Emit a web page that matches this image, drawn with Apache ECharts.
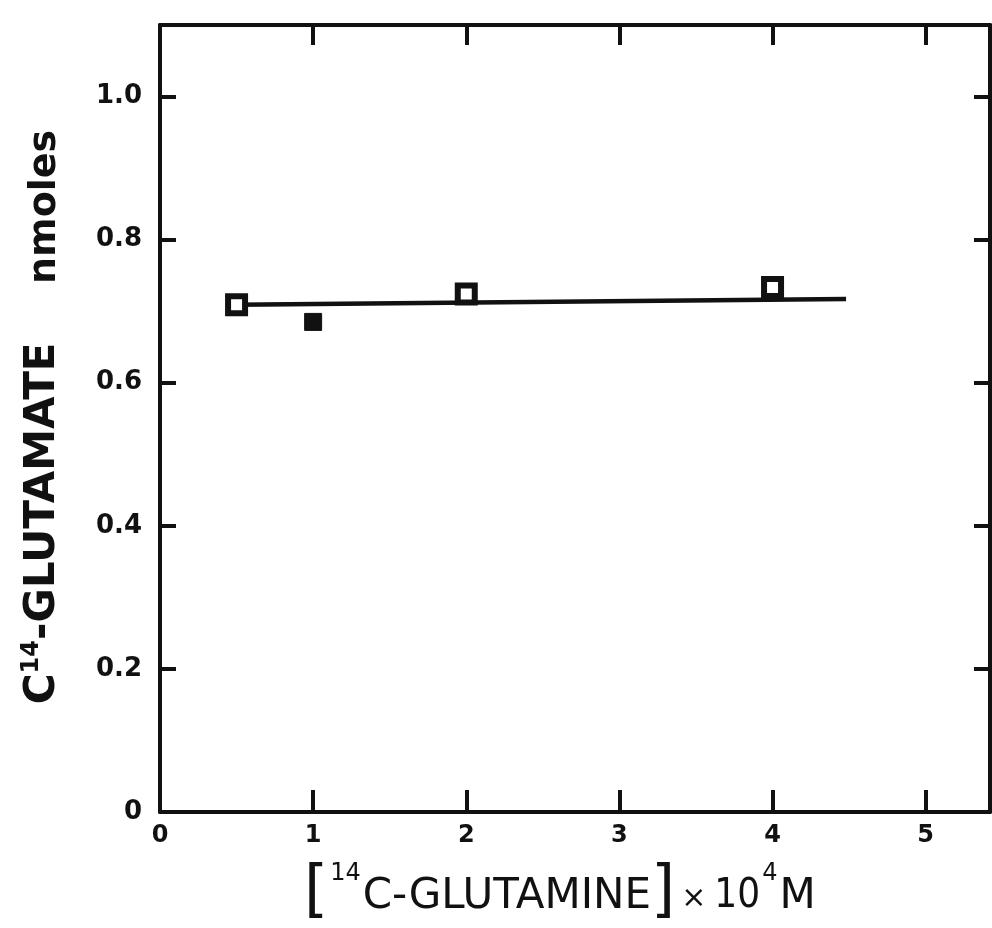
<!DOCTYPE html>
<html>
<head>
<meta charset="utf-8">
<script src="https://cdn.jsdelivr.net/npm/echarts@6/dist/echarts.min.js"></script>
<style>
html,body{margin:0;padding:0;background:#fff;}
#chart{width:992px;height:928px;}
</style>
</head>
<body>
<div id="chart"></div>
<script>
// [14C-glutamine] (x10^4 M) and glutamate formed (nmoles)
const glutamineConc = [0.5, 1, 2, 4];
const glutamateNmol = [0.709, 0.685, 0.724, 0.733];
// fitted straight line through the points
const fitConc = [0.5, 4.48];
const fitNmol = [0.709, 0.717];
// point styles: open squares except the filled one at 1
const pointFilled = [false, true, false, false];

const ink = '#111';
const chart = echarts.init(document.getElementById('chart'));

const points = glutamineConc.map((x, i) => ({
  value: [x, glutamateNmol[i]],
  itemStyle: pointFilled[i]
    ? { color: ink, borderColor: ink, borderWidth: 1, opacity: 1 }
    : { color: '#fff', borderColor: ink, borderWidth: 6, opacity: 1 }
}));

const tickFont = { fontFamily: 'DejaVu Sans', fontWeight: 'bold', color: ink };

chart.setOption({
  animation: false,
  backgroundColor: '#fff',
  grid: { left: 160, right: 2, top: 25, bottom: 116, containLabel: false },
  xAxis: [{
    type: 'value', min: 0, max: 5.42, interval: 1, position: 'bottom',
    axisLine: { show: true, onZero: false, lineStyle: { color: ink, width: 4 } },
    axisTick: { show: true, inside: true, length: 22, lineStyle: { color: ink, width: 4 } },
    axisLabel: { ...tickFont, fontSize: 24, margin: 12, showMaxLabel: false,
      formatter: v => Number.isInteger(v) ? String(v) : '' },
    splitLine: { show: false }
  }, {
    type: 'value', min: 0, max: 5.42, interval: 1, position: 'top',
    axisLine: { show: true, onZero: false, lineStyle: { color: ink, width: 4 } },
    axisTick: { show: true, inside: true, length: 20, lineStyle: { color: ink, width: 4 } },
    axisLabel: { show: false },
    splitLine: { show: false }
  }],
  yAxis: [{
    type: 'value', min: 0, max: 1.1, interval: 0.2, position: 'left',
    axisLine: { show: true, onZero: false, lineStyle: { color: ink, width: 4 } },
    axisTick: { show: true, inside: true, length: 16, lineStyle: { color: ink, width: 4 } },
    axisLabel: { ...tickFont, fontSize: 26, margin: 18, showMaxLabel: false,
      formatter: v => v === 0 ? '0' : v.toFixed(1) },
    splitLine: { show: false }
  }, {
    type: 'value', min: 0, max: 1.1, interval: 0.2, position: 'right',
    axisLine: { show: true, onZero: false, lineStyle: { color: ink, width: 4 } },
    axisTick: { show: true, inside: true, length: 16, lineStyle: { color: ink, width: 4 } },
    axisLabel: { show: false },
    splitLine: { show: false }
  }],
  series: [{
    type: 'line',
    data: fitConc.map((x, i) => [x, fitNmol[i]]),
    showSymbol: false,
    lineStyle: { color: ink, width: 4.5 },
    z: 2
  }, {
    type: 'scatter',
    data: points,
    symbol: 'rect',
    symbolSize: 17,
    z: 3
  }],
  graphic: [{
    // x-axis title
    type: 'text',
    left: 304, top: 862,
    style: {
      text: '{b|[}{s|14}{t|C-GLUTAMINE}{b|]}{x|×}{n|10}{s|4}{t|M}',
      rich: {
        b: { fontFamily: 'DejaVu Sans', fontSize: 62, fontWeight: 'normal', fill: ink, verticalAlign: 'bottom' },
        t: { fontFamily: 'DejaVu Sans', fontSize: 42, fill: ink, verticalAlign: 'bottom', padding: [0, 0, 6, 0] },
        x: { fontFamily: 'DejaVu Sans', fontSize: 30, fill: ink, verticalAlign: 'bottom', padding: [0, 8, 10, 6] },
        n: { fontFamily: 'DejaVu Sans Condensed', fontSize: 40, fill: ink, verticalAlign: 'bottom', padding: [0, 0, 7, 0] },
        s: { fontFamily: 'DejaVu Sans', fontSize: 24, fill: ink, verticalAlign: 'top', padding: [0, 2, 30, 2] }
      }
    }
  }, {
    // y-axis title
    type: 'text',
    x: 42, y: 417,
    rotation: Math.PI / 2,
    style: {
      text: '{t|C}{s|14}{t|-GLUTAMATE    }{u|nmoles}',
      align: 'center', verticalAlign: 'middle',
      rich: {
        t: { fontFamily: 'DejaVu Sans', fontWeight: 'bold', fontSize: 42, fill: ink, verticalAlign: 'bottom' },
        u: { fontFamily: 'DejaVu Sans', fontWeight: 'bold', fontSize: 38, fill: ink, verticalAlign: 'bottom' },
        s: { fontFamily: 'DejaVu Sans', fontWeight: 'bold', fontSize: 24, fill: ink, verticalAlign: 'top', padding: [0, 0, 20, 0] }
      }
    }
  }]
});
</script>
</body>
</html>
